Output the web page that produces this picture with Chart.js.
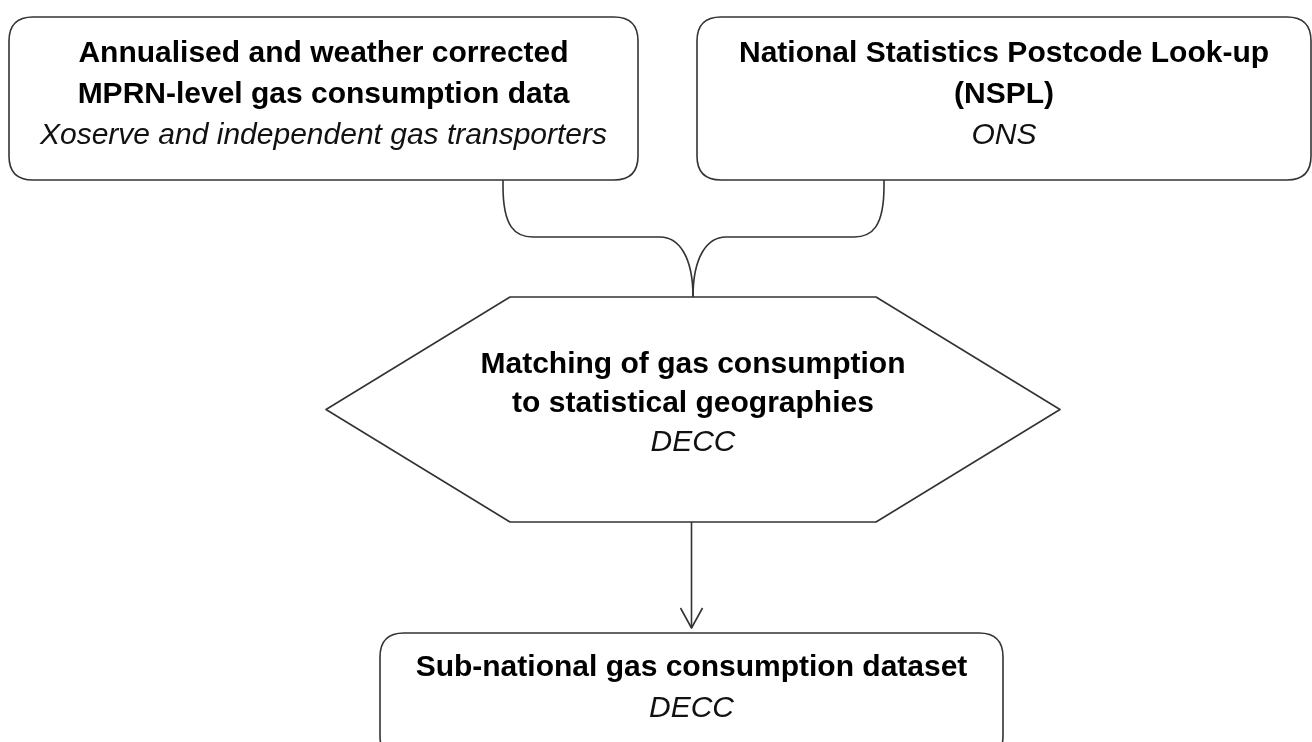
<!DOCTYPE html>
<html>
<head>
<meta charset="utf-8">
<script src="https://cdn.jsdelivr.net/npm/chart.js@4/dist/chart.umd.min.js"></script>
<style>
html,body{margin:0;padding:0;background:#fff;overflow:hidden;}
canvas{display:block;}
</style>
</head>
<body>
<canvas id="c" width="1312" height="742"></canvas>
<script>
// ---- Flowchart content ----
const nodeTitles = [
  ["Annualised and weather corrected", "MPRN-level gas consumption data"],
  ["National Statistics Postcode Look-up", "(NSPL)"],
  ["Matching of gas consumption", "to statistical geographies"],
  ["Sub-national gas consumption dataset"]
];
const nodeSources = ["Xoserve and independent gas transporters", "ONS", "DECC", "DECC"];
const nodeShapes = ["roundRect", "roundRect", "hexagon", "roundRect"];
// edges: [from, to]
const edgeFrom = [0, 1, 2];
const edgeTo   = [2, 2, 3];

// ---- Layout (chart units, y downward) ----
const nodeLeft   = [9, 697, 326, 380];
const nodeRight  = [638, 1311, 1060, 1003];
const nodeTop    = [17, 17, 297, 633];
const nodeBottom = [180, 180, 522, 760];
const nodeInset  = [0, 0, 184, 0];        // hexagon slant width
const textBase   = [62, 62, 373, 676];    // first baseline
const textGap    = [41, 41, 39, 41];
const connectorX = [503, 884];            // exit points of the two source boxes
const joinY = 237;

const nodeCX = nodeLeft.map((l, i) => (l + nodeRight[i]) / 2);
const nodeCY = nodeTop.map((t, i) => (t + Math.min(nodeBottom[i], 742)) / 2);

const STROKE = '#333333';
const FONT = '"Liberation Sans", Arial, sans-serif';

const flowPlugin = {
  id: 'flow',
  beforeDraw(chart) {
    const ctx = chart.ctx;
    ctx.save();
    ctx.fillStyle = '#fff';
    ctx.fillRect(0, 0, chart.width, chart.height);
    ctx.restore();
  },
  afterDatasetsDraw(chart) {
    const ctx = chart.ctx;
    const xs = chart.scales.x, ys = chart.scales.y;
    const X = v => xs.getPixelForValue(v);
    const Y = v => ys.getPixelForValue(v);
    ctx.save();
    ctx.strokeStyle = STROKE;
    ctx.lineWidth = 1.6;
    ctx.lineJoin = 'round';

    // shapes
    nodeShapes.forEach((shape, i) => {
      const l = X(nodeLeft[i]), r = X(nodeRight[i]), t = Y(nodeTop[i]), b = Y(nodeBottom[i]);
      ctx.beginPath();
      if (shape === 'roundRect') {
        const rad = 24;
        ctx.moveTo(l + rad, t);
        ctx.lineTo(r - rad, t);
        ctx.quadraticCurveTo(r, t, r, t + rad);
        ctx.lineTo(r, b - rad);
        ctx.quadraticCurveTo(r, b, r - rad, b);
        ctx.lineTo(l + rad, b);
        ctx.quadraticCurveTo(l, b, l, b - rad);
        ctx.lineTo(l, t + rad);
        ctx.quadraticCurveTo(l, t, l + rad, t);
      } else {
        const ins = X(nodeLeft[i] + nodeInset[i]) - l;
        const my = (t + b) / 2;
        ctx.moveTo(l + ins, t);
        ctx.lineTo(r - ins, t);
        ctx.lineTo(r, my);
        ctx.lineTo(r - ins, b);
        ctx.lineTo(l + ins, b);
        ctx.lineTo(l, my);
        ctx.closePath();
      }
      ctx.fillStyle = '#fff';
      ctx.fill();
      ctx.stroke();
    });

    // brace-style join from the two source boxes into the hexagon
    edgeFrom.forEach((f, k) => {
      const to = edgeTo[k];
      const tx = X(nodeCX[to]);
      if (nodeShapes[f] === 'roundRect' && nodeShapes[to] === 'hexagon') {
        const sx = X(connectorX[f]);
        const sy = Y(nodeBottom[f]);
        const jy = Y(joinY);
        const ty = Y(nodeTop[to]);
        const dir = sx < tx ? 1 : -1;
        ctx.beginPath();
        ctx.moveTo(sx, sy);
        ctx.lineTo(sx, sy + 6);
        ctx.bezierCurveTo(sx, jy - 10, sx + dir * 12, jy, sx + dir * 30, jy);
        ctx.lineTo(tx - dir * 33, jy);
        ctx.bezierCurveTo(tx - dir * 14, jy, tx, jy + 20, tx, ty);
        ctx.stroke();
      } else {
        const sy = Y(nodeBottom[f]);
        const ty = Y(nodeTop[to]) - 5;
        ctx.beginPath();
        ctx.moveTo(tx, sy);
        ctx.lineTo(tx, ty);
        ctx.stroke();
        ctx.beginPath();
        ctx.moveTo(tx - 11, ty - 20);
        ctx.lineTo(tx, ty);
        ctx.lineTo(tx + 11, ty - 20);
        ctx.stroke();
      }
    });

    // text
    ctx.fillStyle = '#000';
    ctx.textAlign = 'center';
    ctx.textBaseline = 'alphabetic';
    nodeTitles.forEach((lines, i) => {
      const cx = X(nodeCX[i]);
      let y = textBase[i];
      ctx.font = 'bold 30px ' + FONT;
      lines.forEach(line => {
        ctx.fillText(line, cx, Y(y));
        y += textGap[i];
      });
      ctx.font = 'italic 30px ' + FONT;
      ctx.fillStyle = '#111';
      ctx.fillText(nodeSources[i], cx, Y(y));
      ctx.fillStyle = '#000';
    });
    ctx.restore();
  }
};

new Chart(document.getElementById('c'), {
  type: 'scatter',
  data: {
    datasets: [{
      label: 'nodes',
      data: nodeCX.map((x, i) => ({x: x, y: nodeCY[i]})),
      pointRadius: 0,
      pointHoverRadius: 0
    }]
  },
  options: {
    responsive: false,
    devicePixelRatio: 1,
    animation: false,
    events: [],
    layout: {padding: 0},
    plugins: {legend: {display: false}, tooltip: {enabled: false}, title: {display: false}},
    scales: {
      x: {type: 'linear', min: 0, max: 1312, display: false},
      y: {type: 'linear', min: 0, max: 742, reverse: true, display: false}
    }
  },
  plugins: [flowPlugin]
});
</script>
</body>
</html>
